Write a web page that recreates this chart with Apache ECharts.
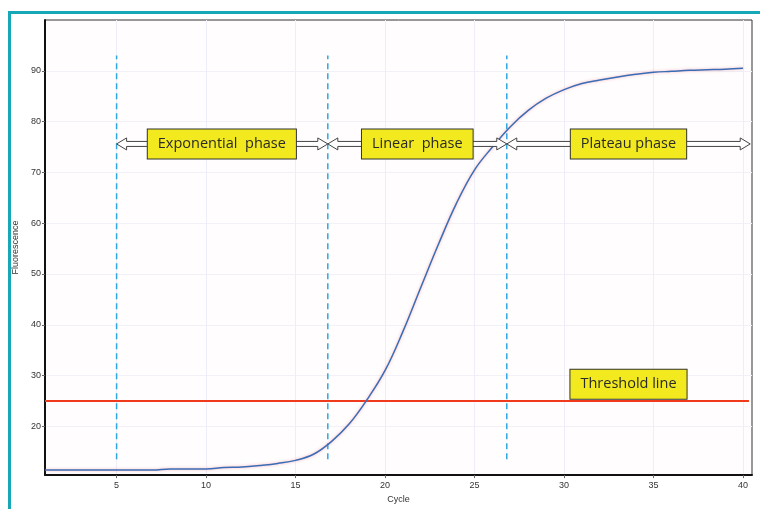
<!DOCTYPE html>
<html>
<head>
<meta charset="utf-8">
<title>qPCR amplification curve</title>
<script src="https://cdn.jsdelivr.net/npm/echarts@6/dist/echarts.min.js"></script>
<style>
    html, body { margin: 0; padding: 0; background: #fff; }
    #container { width: 760px; height: 509px; }
</style>
</head>
<body>
<div id="container"></div>
<script>
// 数据
var cycles = [1, 2, 3, 4, 5, 6, 7, 8, 9, 10, 11, 12, 13, 14, 15, 16, 17, 18, 19, 20,
    21, 22, 23, 24, 25, 26, 27, 28, 29, 30, 31, 32, 33, 34, 35, 36, 37, 38, 39, 40];
var fluorescence = [11.4, 11.4, 11.4, 11.4, 11.4, 11.4, 11.4, 11.6, 11.6, 11.6,
    11.9, 12.0, 12.3, 12.7, 13.3, 14.5, 17.0, 20.5, 25.3, 31.0,
    38.7, 47.4, 56.0, 64.0, 70.5, 75.0, 79.0, 82.2, 84.6, 86.3,
    87.5, 88.2, 88.8, 89.3, 89.7, 89.9, 90.1, 90.2, 90.3, 90.5];
var xTicks = [5, 10, 15, 20, 25, 30, 35, 40];
var yTicks = [20, 30, 40, 50, 60, 70, 80, 90];

var threshold = 25;
var thresholdRange = [1, 40.33];

// 分相虚线
var phaseBounds = [5, 16.8, 26.8];
var boundRange = [13.5, 93];

// 箭头 (起点, 终点) 与标签
var arrowY = 75.6;
var phaseArrows = [[5, 16.8], [16.8, 26.8], [26.8, 40.4]];
var phaseLabels = ['Exponential  phase', 'Linear  phase', 'Plateau phase'];
var phaseLabelX = [10.88, 21.8, 33.6];
var thresholdLabel = 'Threshold line';
var thresholdLabelPos = [33.6, 28.3];

var chart = echarts.init(document.getElementById('container'));

var curve = [];
for (var i = 0; i < cycles.length; i++) {
    curve.push([cycles[i], fluorescence[i]]);
}

var series = [];

// 分相虚线
for (var j = 0; j < phaseBounds.length; j++) {
    series.push({
        type: 'line',
        silent: true,
        symbol: 'none',
        z: 3,
        lineStyle: { color: '#2fa8e0', width: 1.5, type: [6, 4] },
        data: [[phaseBounds[j], boundRange[0]], [phaseBounds[j], boundRange[1]]]
    });
}

// 阈值线
series.push({
    type: 'line',
    silent: true,
    symbol: 'none',
    z: 3,
    lineStyle: { color: '#f03a1c', width: 2 },
    data: [[thresholdRange[0], threshold], [thresholdRange[1], threshold]]
});

// 扩增曲线
series.push({
    type: 'line',
    symbol: 'none',
    smooth: 0.4,
    z: 4,
    lineStyle: {
        color: '#3a6db5', width: 1.5,
        shadowColor: 'rgba(240,110,130,0.55)', shadowBlur: 3
    },
    data: curve
});

// 空心双向箭头
series.push({
    type: 'custom',
    silent: true,
    z: 5,
    data: phaseArrows.map(function (a) { return [a[0], a[1], arrowY]; }),
    renderItem: function (params, api) {
        var p1 = api.coord([api.value(0), api.value(2)]);
        var p2 = api.coord([api.value(1), api.value(2)]);
        var x1 = p1[0], x2 = p2[0], y = p1[1];
        var hl = 10, hh = 6, sh = 2.5;
        return {
            type: 'polygon',
            shape: {
                points: [
                    [x1, y], [x1 + hl, y - hh], [x1 + hl, y - sh], [x2 - hl, y - sh],
                    [x2 - hl, y - hh], [x2, y], [x2 - hl, y + hh], [x2 - hl, y + sh],
                    [x1 + hl, y + sh], [x1 + hl, y + hh]
                ]
            },
            style: { fill: '#fff', stroke: '#444', lineWidth: 1 }
        };
    }
});

// 黄色标签框
var boxData = phaseLabels.map(function (t, k) { return [phaseLabelX[k], arrowY, t]; });
boxData.push([thresholdLabelPos[0], thresholdLabelPos[1], thresholdLabel]);
series.push({
    type: 'custom',
    silent: true,
    z: 6,
    data: boxData,
    renderItem: function (params, api) {
        var p = api.coord([api.value(0), api.value(1)]);
        return {
            type: 'text',
            x: p[0],
            y: p[1],
            style: {
                text: boxData[params.dataIndex][2],
                fontFamily: 'Open Sans',
                fontSize: 14.5,
                fill: '#2a2a2a',
                align: 'center',
                verticalAlign: 'middle',
                backgroundColor: '#f2ea1f',
                borderColor: '#333',
                borderWidth: 1,
                padding: [7, 10, 7, 10]
            }
        };
    }
});

var option = {
    animation: false,
    backgroundColor: '#fff',
    grid: {
        left: 45, top: 20, right: 8, bottom: 30,
        show: true, backgroundColor: '#fffdfd', borderColor: '#333', borderWidth: 1
    },
    xAxis: {
        type: 'value',
        min: 1,
        max: 40.5,
        name: 'Cycle',
        nameLocation: 'middle',
        nameGap: 19,
        nameTextStyle: { color: '#333', fontSize: 9, fontFamily: 'Liberation Sans' },
        axisLine: { lineStyle: { color: '#111', width: 2 } },
        axisTick: { customValues: xTicks, length: 3, lineStyle: { color: '#666' } },
        axisLabel: { customValues: xTicks, color: '#333', fontSize: 9, margin: 6, fontFamily: 'Liberation Sans' },
        splitLine: { show: true, lineStyle: { color: '#eeeef8', width: 1 } }
    },
    yAxis: {
        type: 'value',
        min: 10.4,
        max: 100,
        name: 'Fluorescence',
        nameLocation: 'middle',
        nameGap: 25,
        nameTextStyle: { color: '#333', fontSize: 9, fontFamily: 'Liberation Sans' },
        axisLine: { lineStyle: { color: '#111', width: 2 } },
        axisTick: { customValues: yTicks, length: 3, lineStyle: { color: '#666' } },
        axisLabel: { customValues: yTicks, color: '#333', fontSize: 9, margin: 4, fontFamily: 'Liberation Sans' },
        splitLine: { show: true, lineStyle: { color: '#f1f1f7', width: 1 } }
    },
    graphic: [{
        type: 'rect',
        silent: true,
        shape: { x: 9.5, y: 12.5, width: 800, height: 600 },
        style: { fill: 'none', stroke: '#17a8b8', lineWidth: 3 }
    }],
    series: series
};

chart.setOption(option);
</script>
</body>
</html>
